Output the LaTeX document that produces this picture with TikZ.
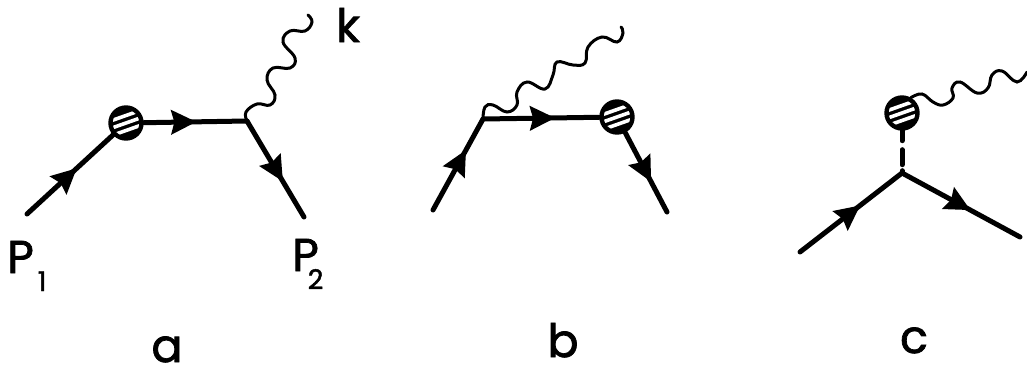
\documentclass[tikz,border=0pt]{standalone}
\usepackage{fontspec}
\setmainfont{Poppins}[FakeBold=1.6]
\usetikzlibrary{arrows.meta, calc, decorations.markings}
\newcommand{\momlabel}[2]{P\kern#1pt\raisebox{-18pt}{\fontsize{27}{27}\selectfont #2}}

\begin{document}
\begin{tikzpicture}[
    x=1pt, y=-1pt,
    every node/.style={inner sep=0pt, font=\fontsize{46}{46}\selectfont},
    fline/.style={line width=5pt, line cap=round, postaction={decorate},
                decoration={markings, mark=at position #1 with
                {\arrow{Stealth[length=25pt, width=24pt, inset=3pt]}}}},
    photon/.style={line width=3pt, line cap=round},
    dashline/.style={line width=5pt, line cap=round,
                dash pattern=on 10pt off 9pt on 15pt off 6pt on 5pt off 0pt},
    blob/.style={circle, draw, fill=white, line width=4.4pt, minimum size=31pt,
                path picture={
                    \fill[black] (path picture bounding box.south west)
                        rectangle (path picture bounding box.north east);
                    \foreach \d in {-7.5, 0, 7.5}
                        \draw[white, line width=3.6pt]
                            ($(path picture bounding box.center)+(-17, 6+\d)$) --
                            ($(path picture bounding box.center)+(17, -6+\d)$);
                }}
]
    \useasboundingbox (0, 0) rectangle (1027, 369);

    % diagram a
    \coordinate (a1) at (27, 214);
    \coordinate (va) at (247, 121);
    \coordinate (a2) at (304, 217);
    \node[blob] (ba) at (126, 123) {};
    \draw[fline=0.58] (a1) -- (ba);
    \draw[fline=0.51] (ba) -- (va);
    \draw[fline=0.63] (va) -- (a2);
    \draw[photon] plot[smooth, tension=0.7] coordinates {(va) (246, 112) (257, 104) (270, 105)
        (275, 95) (267, 80) (273, 68) (290, 68) (295, 58) (283, 42)
        (290, 31) (305, 31) (312, 22) (308, 15)};

    % diagram b
    \coordinate (b1) at (433, 210);
    \coordinate (vb) at (483, 119);
    \coordinate (b2) at (667, 212);
    \node[blob] (bb) at (617, 117) {};
    \draw[fline=0.66] (b1) -- (vb);
    \draw[fline=0.62] (vb) -- (bb);
    \draw[fline=0.62] (bb) -- (b2);
    \draw[photon] plot[smooth, tension=0.7] coordinates {(vb) (485, 107) (493, 105) (507, 112)
        (517, 105) (517, 92) (527, 82) (545, 89) (553, 75) (557, 62)
        (573, 65) (585, 63) (588, 47) (602, 37) (617, 42) (623, 33) (621, 27)};

    % diagram c
    \coordinate (c1) at (800, 252);
    \coordinate (vc) at (902, 173);
    \coordinate (c2) at (1020, 237);
    \node[blob] (bc) at (902, 113) {};
    \draw[fline=0.59] (c1) -- (vc);
    \draw[fline=0.58] (vc) -- (c2);
    \draw[dashline] (bc) -- (vc);
    \draw[photon] plot[smooth, tension=0.7] coordinates {(bc.60) (922, 94) (933, 102) (943, 105)
        (953, 98) (952, 88) (960, 82) (977, 93) (988, 88) (992, 75)
        (1002, 71) (1017, 82) (1027, 72)};

    % labels
    \node[anchor=base west] (p1) at (7, 273) {\momlabel{4}{1}};
    \node[anchor=base west] (p2) at (292, 271) {\momlabel{-11}{2}};
    \node[anchor=base] (k) at (348, 42) {k};
    \node[anchor=base] (la) at (167, 362) {a};
    \node[anchor=base] (lb) at (563, 357) {b};
    \node[anchor=base] (lc) at (914, 353) {c};
\end{tikzpicture}
\end{document}
